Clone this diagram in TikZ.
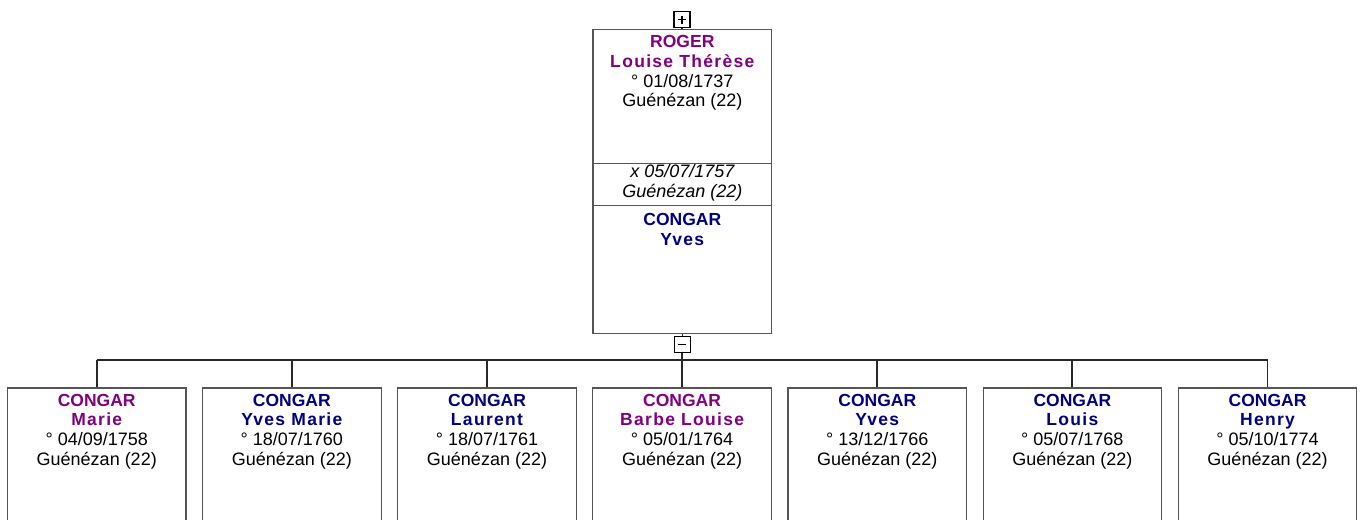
\documentclass[tikz,border=0pt]{standalone}
\usepackage{fontspec}
\setmainfont{Liberation Sans}
\newfontfamily\spfont[LetterSpace=7.5]{Liberation Sans}
\definecolor{fem}{RGB}{128,0,128}
\definecolor{mal}{RGB}{0,0,128}
\definecolor{boxgray}{RGB}{85,85,85}
\definecolor{linkgray}{RGB}{40,40,40}
\newcommand\surn[2]{{\color{#1}\fontsize{17.5}{19.8}\selectfont\bfseries #2}}
\newcommand\givn[2]{{\color{#1}\spfont\fontsize{17.5}{19.8}\selectfont\bfseries #2}}
\begin{document}
\begin{tikzpicture}[x=1pt,y=-1pt,
  person/.style={draw=boxgray,line width=1.2pt,minimum width=178.5pt,minimum height=200pt,anchor=north,inner sep=0},
  info/.style={anchor=north,inner sep=0,align=center,font=\fontsize{18}{19.8}\selectfont},
  link/.style={draw=linkgray,line width=1.8pt},
  toggle/.style={draw=black,line width=1.2pt,minimum size=16pt,inner sep=0,fill=white},
  sign/.style={draw=black,line width=1.1pt}
]
\useasboundingbox (0,0) rectangle (1364,519);
% parent box
\node[person,minimum height=304pt] (parent) at (682.3,29) {};
\coordinate (d1) at (0,163.5);
\coordinate (d2) at (0,205.8);
\draw[draw=boxgray,line width=1.2pt] (parent.west |- d1) -- (parent.east |- d1);
\draw[draw=boxgray,line width=1.2pt] (parent.west |- d2) -- (parent.east |- d2);
\node[info] (ptext) at (682.3,35) {\surn{fem}{ROGER}\\\givn{fem}{Louise Thérèse}\\° 01/08/1737\\Guénézan (22)};
\node[info,font=\fontsize{18}{19.8}\selectfont\itshape] (mtext) at (682.3,164.2) {x 05/07/1757\\Guénézan (22)};
\node[info] (stext) at (682.3,213.4) {\surn{mal}{CONGAR}\\\givn{mal}{Yves}};
% toggles
\node[toggle] (plus) at (682,19.8) {};
\draw[sign] ([xshift=-4pt]plus.center) -- ([xshift=4pt]plus.center);
\draw[sign] ([yshift=-4pt]plus.center) -- ([yshift=4pt]plus.center);
\draw[link,line width=1.2pt] (plus.south) -- (plus.south |- parent.north);
\node[toggle] (minus) at (682.1,344.7) {};
\draw[sign] ([xshift=-4pt]minus.center) -- ([xshift=4pt]minus.center);
\draw[link,line width=1.2pt] (minus.north |- parent.south) -- (minus.north);
% children
\coordinate (bar) at (0,360);
\foreach \i/\col/\gn/\dd/\mm/\yy in {
  1/fem/Marie/04/09/1758,
  2/mal/Yves Marie/18/07/1760,
  3/mal/Laurent/18/07/1761,
  4/fem/Barbe Louise/05/01/1764,
  5/mal/Yves/13/12/1766,
  6/mal/Louis/05/07/1768,
  7/mal/Henry/05/10/1774}{
  \pgfmathsetmacro{\cx}{96.75+195.125*(\i-1)}
  \node[person] (c\i) at (\cx,387.3) {};
  \node[info] (t\i) at (\cx,393.7) {\surn{\col}{CONGAR}\\\givn{\col}{\gn}\\° \dd/\mm/\yy\\Guénézan (22)};
}
\draw[link] (c1.north |- bar) -- (c7.north |- bar);
\foreach \i in {1,2,3,5,6,7}{
  \draw[link] (c\i.north |- bar) -- (c\i.north);
}
\draw[link] (minus.south) -- (minus.south |- c4.north);
\end{tikzpicture}
\end{document}
